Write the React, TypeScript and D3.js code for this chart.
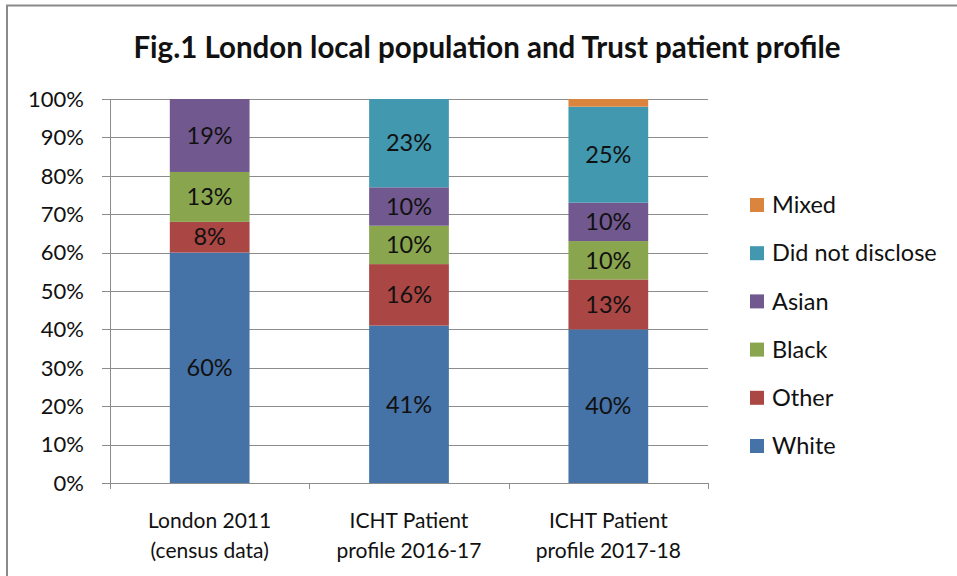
import * as d3 from 'd3'
import React, { useEffect, useRef } from 'react'

const categories = [
  ['London 2011', '(census data)'],
  ['ICHT Patient', 'profile 2016-17'],
  ['ICHT Patient', 'profile 2017-18'],
]
const seriesNames = ['White', 'Other', 'Black', 'Asian', 'Did not disclose', 'Mixed']
const seriesColors = ['#4572A7', '#AA4643', '#89A54E', '#71588F', '#4198AF', '#DB843D']
const white = [60, 41, 40]
const other = [8, 16, 13]
const black = [13, 10, 10]
const asian = [19, 10, 10]
const didNotDisclose = [0, 23, 25]
const mixed = [0, 0, 2]
const yTicks = [0, 10, 20, 30, 40, 50, 60, 70, 80, 90, 100]

const W = 957
const H = 576
const FONT = 'Lato, "Open Sans", sans-serif'

export default function App() {
  const ref = useRef<SVGSVGElement>(null)

  useEffect(() => {
    if (!ref.current) return
    const svg = d3.select(ref.current)
    svg.selectAll('*').remove()

    const margin = { left: 110, right: 249, top: 99, bottom: 93 }
    const x = d3
      .scaleBand<number>()
      .domain(categories.map((_, i) => i))
      .range([margin.left, W - margin.right])
      .paddingInner(0.6)
      .paddingOuter(0.3)
    const y = d3.scaleLinear().domain([0, 100]).range([H - margin.bottom, margin.top])

    // chart frame
    svg
      .append('rect')
      .attr('x', 7)
      .attr('y', 5.5)
      .attr('width', W + 20)
      .attr('height', H + 20)
      .attr('fill', 'white')
      .attr('stroke', '#8a8a8a')
      .attr('stroke-width', 2)

    svg
      .append('text')
      .attr('x', 487)
      .attr('y', 58)
      .attr('text-anchor', 'middle')
      .attr('font-family', FONT)
      .attr('font-weight', 'bold')
      .attr('font-size', 29.5)
      .attr('fill', '#111')
      .text('Fig.1 London local population and Trust patient profile')

    // gridlines
    svg
      .append('g')
      .selectAll('line')
      .data(yTicks)
      .join('line')
      .attr('x1', margin.left - 8)
      .attr('x2', W - margin.right)
      .attr('y1', d => Math.round(y(d)) + 0.5)
      .attr('y2', d => Math.round(y(d)) + 0.5)
      .attr('stroke', '#8c8c8c')
      .attr('stroke-width', 1)

    svg
      .append('g')
      .selectAll('text')
      .data(yTicks)
      .join('text')
      .attr('x', 84)
      .attr('y', d => y(d))
      .attr('dy', '0.35em')
      .attr('text-anchor', 'end')
      .attr('font-family', FONT)
      .attr('font-size', 22)
      .attr('fill', '#111')
      .text(d => `${d}%`)

    // axis lines
    svg
      .append('line')
      .attr('x1', margin.left + 0.5)
      .attr('x2', margin.left + 0.5)
      .attr('y1', y(100))
      .attr('y2', y(0))
      .attr('stroke', '#8c8c8c')
    const step = x.step()
    const bounds = d3.range(categories.length + 1).map(i => margin.left + i * step)
    svg
      .append('g')
      .selectAll('line')
      .data(bounds)
      .join('line')
      .attr('x1', d => Math.round(d) + 0.5)
      .attr('x2', d => Math.round(d) + 0.5)
      .attr('y1', y(0))
      .attr('y2', y(0) + 6)
      .attr('stroke', '#8c8c8c')

    const values = [white, other, black, asian, didNotDisclose, mixed]
    const rows = categories.map((_, i) => {
      const r: Record<string, number> = { idx: i }
      seriesNames.forEach((s, k) => (r[s] = values[k][i]))
      return r
    })
    const stacked = d3.stack<Record<string, number>>().keys(seriesNames)(rows)

    const layers = svg
      .append('g')
      .selectAll('g')
      .data(stacked)
      .join('g')
      .attr('fill', (_, k) => seriesColors[k])
    layers
      .selectAll('rect')
      .data(d => d)
      .join('rect')
      .attr('x', (_, i) => x(i)!)
      .attr('width', x.bandwidth())
      .attr('y', d => y(d[1]))
      .attr('height', d => y(d[0]) - y(d[1]))

    layers
      .selectAll('text')
      .data(d => d.filter(p => p[1] - p[0] >= 5).map(p => ({ p, i: p.data.idx })))
      .join('text')
      .attr('x', d => x(d.i)! + x.bandwidth() / 2)
      .attr('y', d => y((d.p[0] + d.p[1]) / 2))
      .attr('dy', '0.35em')
      .attr('text-anchor', 'middle')
      .attr('font-family', FONT)
      .attr('font-size', 23.5)
      .attr('fill', '#111')
      .text(d => `${d.p[1] - d.p[0]}%`)

    // category labels
    const cat = svg
      .append('g')
      .selectAll('text')
      .data(categories)
      .join('text')
      .attr('x', (_, i) => x(i)! + x.bandwidth() / 2)
      .attr('y', 528)
      .attr('text-anchor', 'middle')
      .attr('font-family', FONT)
      .attr('font-size', 21)
      .attr('fill', '#111')
    cat
      .selectAll('tspan')
      .data(d => d)
      .join('tspan')
      .attr('x', function () {
        return (this.parentNode as SVGTextElement).getAttribute('x')
      })
      .attr('dy', (_, j) => (j === 0 ? 0 : 30))
      .text(d => d)

    // legend
    const legendOrder = d3.range(seriesNames.length).reverse()
    const lg = svg
      .append('g')
      .selectAll('g')
      .data(legendOrder)
      .join('g')
      .attr('transform', (_, j) => `translate(750, ${205 + j * 48.2})`)
    lg.append('rect')
      .attr('x', 0)
      .attr('y', -7)
      .attr('width', 14)
      .attr('height', 14)
      .attr('fill', k => seriesColors[k])
    lg.append('text')
      .attr('x', 22)
      .attr('dy', '0.35em')
      .attr('font-family', FONT)
      .attr('font-size', 23.5)
      .attr('fill', '#111')
      .text(k => seriesNames[k])
  }, [])

  return (
    <div style={{ position: 'absolute', left: 0, top: 0, width: W, height: H, overflow: 'hidden' }}>
      <svg ref={ref} width={W} height={H} style={{ display: 'block' }} />
    </div>
  )
}
